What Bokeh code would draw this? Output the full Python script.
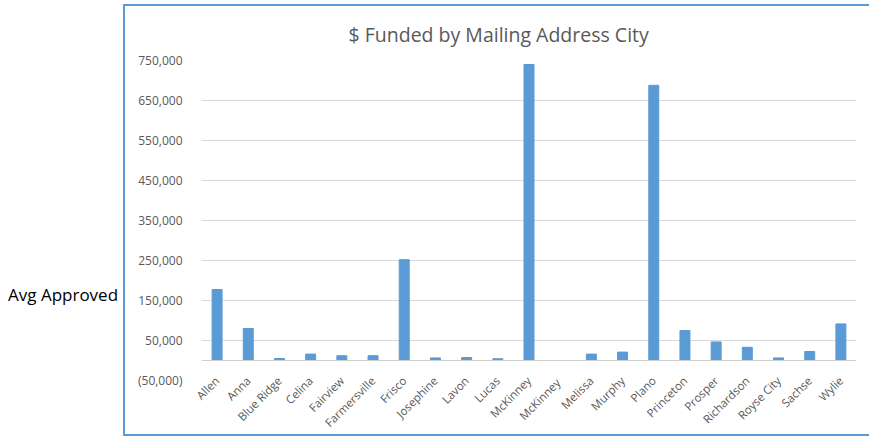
from bokeh.plotting import figure
from bokeh.models import (FactorRange, FixedTicker, NumeralTickFormatter, Div, Range1d, Span)
from bokeh.layouts import row
from bokeh.embed import file_html
from bokeh.resources import INLINE
import math

cities = ["Allen", "Anna", "Blue Ridge", "Celina", "Fairview", "Farmersville", "Frisco",
          "Josephine", "Lavon", "Lucas", "McKinney", "McKinney ", "Melissa", "Murphy",
          "Plano", "Princeton", "Prosper", "Richardson", "Royse City", "Sachse", "Wylie"]
funded = [177500, 80000, 5000, 16000, 12000, 12000, 252000,
          6500, 7500, 4500, 740000, 0, 16000, 21000,
          688000, 75000, 46500, 33000, 6500, 22500, 91500]
y_ticks = [-50000, 50000, 150000, 250000, 350000, 450000, 550000, 650000, 750000]
title_text = "$ Funded by Mailing Address City"
side_label = "Avg Approved"

FONT = "Open Sans"
GRAY = "#595959"

p = figure(x_range=FactorRange(*cities, range_padding=0), y_range=Range1d(-50000, 750000),
           width=746, height=432, output_backend="svg", toolbar_location=None,
           min_border_left=76, min_border_right=15, min_border_top=54, min_border_bottom=54,
           title=title_text)
p.vbar(x=cities, top=funded, width=0.32, color="#5b9bd5")
p.add_layout(Span(location=0, dimension="width", line_color="#cfcfcf", line_width=1))

p.title.text_font = FONT
p.title.text_font_size = "19.5px"
p.title.text_font_style = "normal"
p.title.text_color = GRAY
p.title.align = "left"
p.title.offset = 147
p.title.standoff = 25

p.outline_line_color = None
p.xgrid.grid_line_color = None
p.ygrid.grid_line_color = "#d9d9d9"
p.ygrid.ticker = FixedTicker(ticks=y_ticks)

yax = p.yaxis[0]
yax.ticker = FixedTicker(ticks=y_ticks)
yax.formatter = NumeralTickFormatter(format="(0,0)")
yax.axis_line_color = None
yax.major_tick_line_color = None
yax.minor_tick_line_color = None
yax.major_label_text_font = FONT
yax.major_label_text_font_size = "12px"
yax.major_label_text_color = GRAY
yax.major_label_standoff = 13

xax = p.xaxis[0]
xax.axis_line_color = None
xax.major_tick_line_color = None
xax.minor_tick_line_color = None
xax.major_label_orientation = math.pi / 4
xax.major_label_text_font = FONT
xax.major_label_text_font_size = "11.5px"
xax.major_label_text_color = GRAY
xax.major_label_standoff = -8

p.styles = {"border-left": "2px solid #5b9bd5", "border-top": "2px solid #5b9bd5",
            "border-bottom": "2px solid #5b9bd5", "margin-top": "4px"}

div = Div(text=f'<div style="position:relative; top:278px; left:3px; font-family:\'{FONT}\'; '
               f'font-size:17px; color:#000; white-space:nowrap;">{side_label}</div>',
          width=113, height=424)

layout = row(div, p)
open("out.html", "w").write(file_html(layout, INLINE))
